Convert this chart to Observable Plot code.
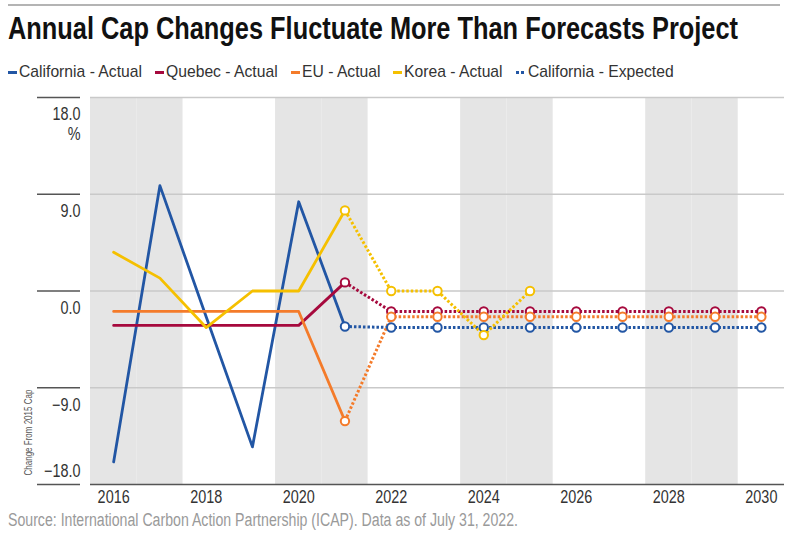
<!DOCTYPE html>
<html>
<head>
<meta charset="utf-8">
<script src="https://cdn.jsdelivr.net/npm/d3@7"></script>
<script src="https://cdn.jsdelivr.net/npm/@observablehq/plot@0.6"></script>
<style>
  html, body { margin: 0; padding: 0; background: #fff; }
  body { width: 794px; height: 534px; position: relative; overflow: hidden; font-family: "Liberation Sans", Arial, sans-serif; }
  #rule { position: absolute; left: 8px; top: 4px; width: 772px; height: 2px; background: #b4b4b4; }
  #title { position: absolute; left: 8px; top: 9px; font-size: 32px; font-weight: bold; color: #111; white-space: nowrap; line-height: 38px; }
  #legend { position: absolute; left: 8px; top: 62px; display: flex; align-items: center; font-size: 17px; color: #333; white-space: nowrap; line-height: 20px; }
  .item { display: flex; align-items: center; margin-right: 13px; }
  .sw { width: 9px; height: 3px; margin-right: 2px; flex: none; }
  .swdot { width: 8px; height: 3px; margin-right: 4px; flex: none; }
  .cw { display: inline-block; overflow: visible; white-space: nowrap; }
  .ci { display: inline-block; transform-origin: 0 0; white-space: nowrap; }
  #chart { position: absolute; left: 0; top: 88px; }
  #source { position: absolute; left: 8px; top: 509px; font-size: 18px; color: #9a9a9a; white-space: nowrap; line-height: 22px; }
</style>
</head>
<body>
<div id="rule"></div>
<div id="title"></div>
<div id="legend"></div>
<div id="chart"></div>
<div id="source"></div>
<script>
// ---- Data ----
const titleText = "Annual Cap Changes Fluctuate More Than Forecasts Project";
const sourceText = "Source: International Carbon Action Partnership (ICAP). Data as of July 31, 2022.";
const yAxisNote = "Change From 2015 Cap";

const seriesNames = ["California", "Quebec", "EU", "Korea"];
const seriesColors = ["#2256a4", "#a6093d", "#f47b2a", "#f5c000"];

const actualYears = [2016, 2017, 2018, 2019, 2020, 2021];
const californiaActual = [-15.9, 9.8, -2.4, -14.5, 8.3, -3.3];
const quebecActual = [-3.2, -3.2, -3.2, -3.2, -3.2, 0.8];
const euActual = [-1.9, -1.9, -1.9, -1.9, -1.9, -12.1];
const koreaActual = [3.6, 1.2, -3.4, 0.0, 0.0, 7.5];

const expectedYears = [2021, 2022, 2023, 2024, 2025, 2026, 2027, 2028, 2029, 2030];
const californiaExpected = [-3.3, -3.4, -3.4, -3.4, -3.4, -3.4, -3.4, -3.4, -3.4, -3.4];
const quebecExpected = [0.8, -1.9, -1.9, -1.9, -1.9, -1.9, -1.9, -1.9, -1.9, -1.9];
const euExpected = [-12.1, -2.4, -2.4, -2.4, -2.4, -2.4, -2.4, -2.4, -2.4, -2.4];
const koreaExpectedYears = [2021, 2022, 2023, 2024, 2025];
const koreaExpected = [7.5, 0.0, 0.0, -4.1, 0.0];

const legendItems = [
  {label: "California - Actual", color: "#2256a4", dotted: false},
  {label: "Quebec - Actual", color: "#a6093d", dotted: false},
  {label: "EU - Actual", color: "#f47b2a", dotted: false},
  {label: "Korea - Actual", color: "#f5c000", dotted: false},
  {label: "California - Expected", color: "#2256a4", dotted: true}
];

const yTicks = [-18, -9, 0, 9, 18];
const yLabelTicks = [-9, 0, 9, 18];
const gridValues = [-9, 0, 9, 18];
const xTicks = [2016, 2018, 2020, 2022, 2024, 2026, 2028, 2030];
const bandYears = [2016, 2017, 2020, 2021, 2024, 2025, 2028, 2029];
const xDomain = [2015.5, 2030.5];
const yDomain = [-18, 18];

// ---- Build tables ----
function rows(name, years, values) { return years.map((y, i) => ({series: name, year: y, value: values[i]})); }
const actualRows = [
  ...rows("California", actualYears, californiaActual),
  ...rows("Quebec", actualYears, quebecActual),
  ...rows("EU", actualYears, euActual),
  ...rows("Korea", actualYears, koreaActual)
];
const expectedRows = [
  ...rows("California", expectedYears, californiaExpected),
  ...rows("Quebec", expectedYears, quebecExpected),
  ...rows("EU", expectedYears, euExpected),
  ...rows("Korea", koreaExpectedYears, koreaExpected)
];

// ---- condensed text helper (no narrow font installed) ----
function condensed(parent, text) {
  const w = document.createElement("span"); w.className = "cw";
  const i = document.createElement("span"); i.className = "ci"; i.textContent = text;
  w.appendChild(i); parent.appendChild(w);
  return {w, i};
}
function squeeze(obj, k) {
  const nat = obj.i.getBoundingClientRect().width;
  obj.i.style.transform = `scaleX(${k})`;
  obj.w.style.width = (nat * k) + "px";
  return nat;
}

// ---- HTML text ----
const titleObj = condensed(document.getElementById("title"), titleText);
squeeze(titleObj, 730 / titleObj.i.getBoundingClientRect().width);
const srcObj = condensed(document.getElementById("source"), sourceText);
squeeze(srcObj, 510 / srcObj.i.getBoundingClientRect().width);

const legend = document.getElementById("legend");
const legObjs = [];
for (const it of legendItems) {
  const d = document.createElement("div"); d.className = "item";
  const s = document.createElement("span");
  if (it.dotted) {
    s.className = "swdot";
    s.style.background = `repeating-linear-gradient(90deg, ${it.color} 0 3px, transparent 3px 5px)`;
  } else {
    s.className = "sw"; s.style.background = it.color;
  }
  d.appendChild(s);
  legObjs.push(condensed(d, it.label));
  legend.appendChild(d);
}
const kLeg = 123 / legObjs[0].i.getBoundingClientRect().width;
legObjs.forEach(o => squeeze(o, kLeg));

// ---- Chart ----
const fmt = d3.format(".1f");
const chart = Plot.plot({
  width: 794,
  height: 422,
  marginTop: 9,
  marginBottom: 26,
  marginLeft: 90,
  marginRight: 10,
  style: {fontFamily: "'Liberation Sans', Arial, sans-serif", fontSize: "18px", color: "#333", background: "transparent"},
  x: {domain: xDomain, axis: null},
  y: {domain: yDomain, axis: null},
  color: {domain: seriesNames, range: seriesColors},
  marks: [
    Plot.rect(bandYears, {x1: d => d - 0.5, x2: d => d + 0.5, y1: () => yDomain[0], y2: () => yDomain[1], fill: "#e5e5e5"}),
    Plot.ruleY(gridValues, {stroke: "#c9c9c9", strokeWidth: 1.5}),
    Plot.ruleY([yDomain[0]], {stroke: "#555", strokeWidth: 1.5}),
    Plot.axisY({ticks: yTicks, tickSize: 43, dx: -10, tickFormat: () => "", stroke: "#555", strokeWidth: 1.5, label: null}),
    Plot.axisY({ticks: yLabelTicks, tickSize: 0, tickPadding: 10, tickFormat: fmt, dy: 17, fill: "#333", label: null, className: "sq"}),
    Plot.axisY({ticks: [yDomain[0]], tickSize: 0, tickPadding: 10, tickFormat: fmt, dy: -13, fill: "#333", label: null, className: "sq"}),
    Plot.axisY({ticks: [yDomain[1]], tickSize: 0, tickPadding: 10, tickFormat: () => "%", dy: 37, fill: "#333", label: null, className: "sq"}),
    Plot.axisX({ticks: xTicks, tickSize: 0, tickPadding: 6, tickFormat: d => String(d), fill: "#333", label: null, className: "sq"}),
    Plot.text([yAxisNote], {frameAnchor: "bottom-left", rotate: -90, textAnchor: "start", lineAnchor: "middle", dx: -62, dy: -9, fontSize: 10, fill: "#555", className: "sq"}),
    Plot.line(actualRows, {x: "year", y: "value", z: "series", stroke: "series", strokeWidth: 2.8}),
    Plot.line(expectedRows, {x: "year", y: "value", z: "series", stroke: "series", strokeWidth: 3, strokeDasharray: "2.5,2", strokeLinecap: "butt"}),
    Plot.dot(expectedRows, {x: "year", y: "value", stroke: "series", fill: "white", r: 4.2, strokeWidth: 2})
  ]
});
document.getElementById("chart").appendChild(chart);
// condense svg texts
chart.querySelectorAll("g.sq text, .sq text").forEach(t => {
  const L = t.getComputedTextLength();
  if (L > 0) { t.setAttribute("textLength", (L * 0.8).toFixed(2)); t.setAttribute("lengthAdjust", "spacingAndGlyphs"); }
});
</script>
</body>
</html>
